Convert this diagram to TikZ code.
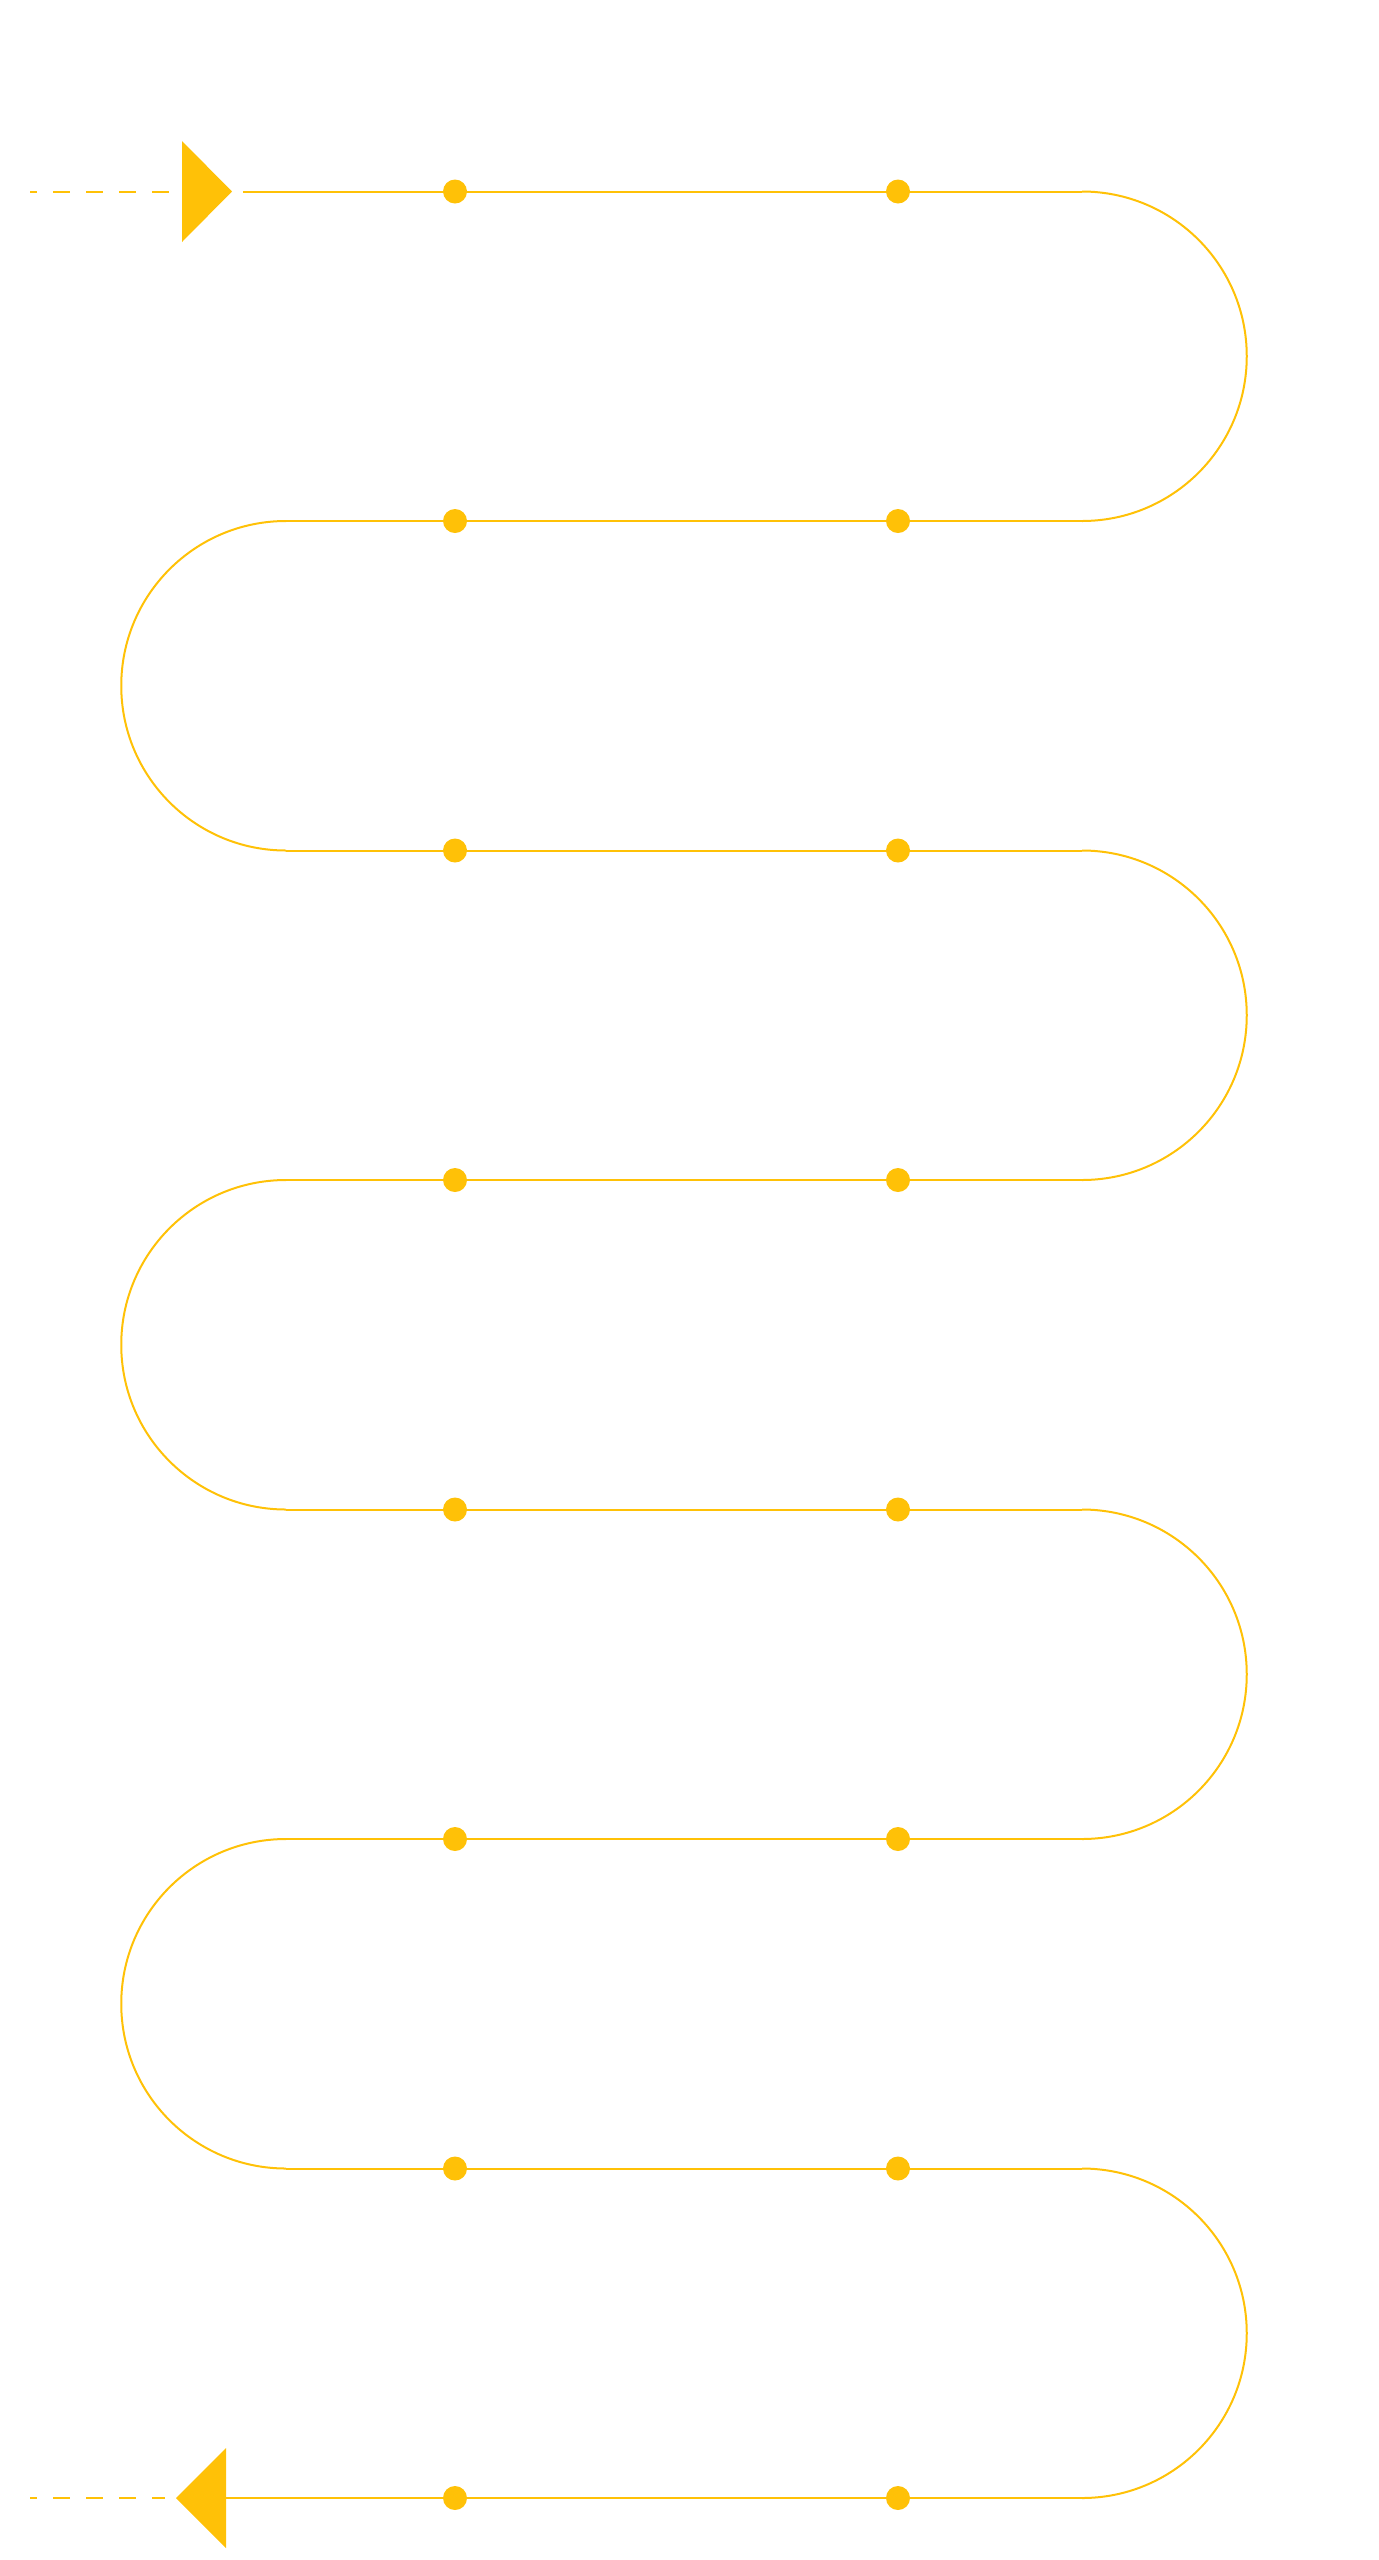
\documentclass[tikz,border=0pt]{standalone}
\usetikzlibrary{arrows.meta}
\definecolor{amber}{HTML}{FFC107}
\begin{document}
\begin{tikzpicture}[x=1pt,y=-1pt,
   track/.style={draw=amber,line width=2pt},
   lead/.style={draw=amber,line width=2pt,dash pattern=on 17pt off 16pt,dash phase=10pt},
   tip/.style={fill=amber,draw=none},
   stop/.style={circle,fill=amber,inner sep=0pt,minimum size=24pt}
]
  \useasboundingbox (0,0) rectangle (1379,2560);
  % rows of the track
  \foreach \i in {0,...,7}{
    \coordinate (L\i) at (286,191.5+329.5*\i);
    \coordinate (R\i) at (1082,191.5+329.5*\i);
  }
  \coordinate (in) at (243,191.5);
  \coordinate (out) at (226,2498);
  \draw[track] (in) -- (R0);
  \foreach \i in {1,...,6}
    \draw[track] (L\i) -- (R\i);
  \draw[track] (out) -- (R7);
  % right bends
  \foreach \i/\j in {0/1,2/3,4/5,6/7}
    \draw[track] (R\i) arc[start angle=-90,end angle=90,radius=164.75];
  % left bends
  \foreach \i/\j in {1/2,3/4,5/6}
    \draw[track] (L\i) arc[start angle=-90,end angle=-270,radius=164.75];
  % stops
  \foreach \i in {0,...,7}{
    \node[stop] (a\i) at (455,191.5+329.5*\i) {};
    \node[stop] (b\i) at (898,191.5+329.5*\i) {};
  }
  % entry
  \coordinate (e0) at (30,191.5);
  \coordinate (e1) at (170,191.5);
  \draw[lead] (e0) -- (e1);
  \fill[tip] (182,141) -- (232,191.5) -- (182,242) -- cycle;
  % exit
  \coordinate (x0) at (30,2498);
  \coordinate (x1) at (165,2498);
  \draw[lead] (x0) -- (x1);
  \fill[tip] (226,2448) -- (176,2498) -- (226,2548) -- cycle;
\end{tikzpicture}
\end{document}
